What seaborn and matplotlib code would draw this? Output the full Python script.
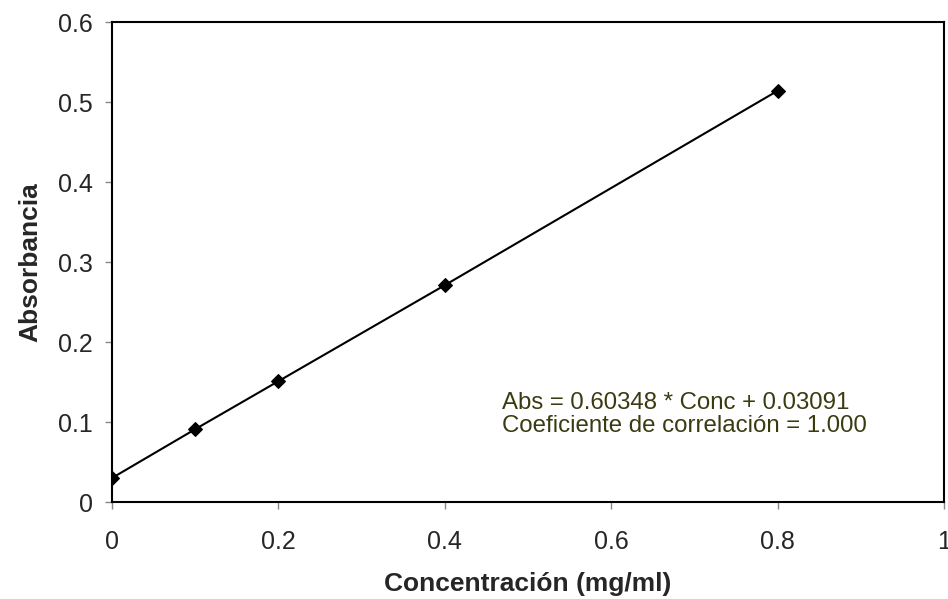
import matplotlib
matplotlib.use('Agg')
import matplotlib.pyplot as plt
import seaborn as sns
import pandas as pd

conc = [0.0, 0.1, 0.2, 0.4, 0.8]
absorb = [0.030, 0.091, 0.151, 0.271, 0.514]
x_ticks = [0, 0.2, 0.4, 0.6, 0.8, 1]
y_ticks = [0, 0.1, 0.2, 0.3, 0.4, 0.5, 0.6]

sns.set_style('ticks')
plt.rcParams['font.family'] = ['Liberation Sans', 'DejaVu Sans']

df = pd.DataFrame({'Conc': conc, 'Abs': absorb})

fig = plt.figure(figsize=(9.48, 5.99), dpi=100)
ax = fig.add_axes([112 / 948, 1 - 502 / 599, 832 / 948, 480 / 599])
sns.lineplot(data=df, x='Conc', y='Abs', ax=ax, color='black', linewidth=1.5,
             marker='D', markersize=7, markeredgecolor='black')

ax.set_xlim(0, 1)
ax.set_ylim(0, 0.6)
ax.set_xticks(x_ticks)
ax.set_xticklabels(['0', '0.2', '0.4', '0.6', '0.8', '1'])
ax.set_yticks(y_ticks)
ax.set_yticklabels(['0', '0.1', '0.2', '0.3', '0.4', '0.5', '0.6'])
ax.tick_params(labelsize=18, length=5, width=1, color='#888888')
ax.tick_params(axis='x', pad=15)
ax.tick_params(axis='y', pad=9)
for s in ax.spines.values():
    s.set_visible(True)
    s.set_linewidth(1.5)
    s.set_color('black')

ax.set_xlabel('Concentración (mg/ml)', fontsize=19, fontweight='bold', labelpad=13)
ax.set_ylabel('Absorbancia', fontsize=19, fontweight='bold', labelpad=11)

# fit equation placed inside the plot, lower right
ax.text(0.469, 0.109, 'Abs = 0.60348 * Conc + 0.03091\nCoeficiente de correlación = 1.000',
        fontsize=17.3, color='#3b3b12', ha='left', va='center', linespacing=1.08)

fig.savefig('out.png', dpi=100)
